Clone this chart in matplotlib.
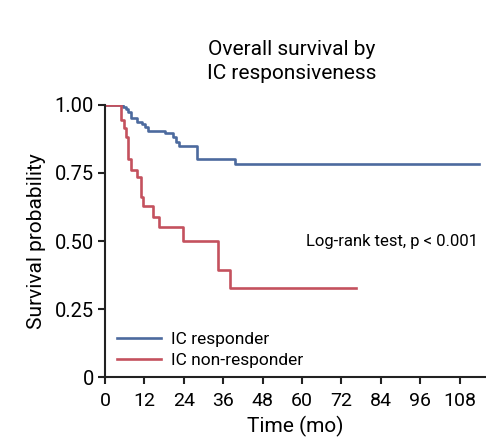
import matplotlib
matplotlib.use("Agg")
import matplotlib.pyplot as plt
import numpy as np

plt.rcParams['font.family'] = ['Roboto', 'DejaVu Sans']

# step curves (time in months, survival probability)
resp_t = [0, 5.6, 6.3, 7.0, 7.8, 9.7, 11.2, 12.2, 13.2, 18.3, 20.8, 21.7, 22.4, 28.0, 39.7, 114]
resp_s = [1.0, 0.994, 0.985, 0.975, 0.951, 0.939, 0.930, 0.918, 0.906, 0.896, 0.884, 0.865, 0.849, 0.800, 0.783, 0.783]

nonresp_t = [0, 4.9, 5.8, 6.4, 7.1, 7.9, 9.7, 10.9, 11.7, 14.5, 16.3, 23.9, 34.3, 38.1, 76.3]
nonresp_s = [1.0, 0.945, 0.914, 0.884, 0.80, 0.76, 0.734, 0.663, 0.629, 0.59, 0.553, 0.50, 0.393, 0.328, 0.328]

xticks = [0, 12, 24, 36, 48, 60, 72, 84, 96, 108]
yticks = [0, 0.25, 0.5, 0.75, 1.0]
ytick_labels = ['0', '0.25', '0.50', '0.75', '1.00']

blue = '#4c6a9e'
red = '#c4515e'

fig = plt.figure(figsize=(4.86, 4.41), dpi=100)
ax = fig.add_axes([0.216, 0.145, 0.784, 0.617])

ax.step(resp_t, resp_s, where='post', color=blue, lw=1.9, label='IC responder')
ax.step(nonresp_t, nonresp_s, where='post', color=red, lw=1.9, label='IC non-responder')

ax.set_xlim(0, 116)
ax.set_ylim(0, 1.0)
ax.set_xticks(xticks)
ax.set_yticks(yticks)
ax.set_yticklabels(ytick_labels)
ax.tick_params(axis='y', labelsize=14.5, width=1.5, length=5, color='#222222', pad=3)
ax.tick_params(axis='x', labelsize=14, width=1.5, length=5, color='#222222', pad=6)

for s in ['top', 'right']:
    ax.spines[s].set_visible(False)
for s in ['left', 'bottom']:
    ax.spines[s].set_linewidth(1.5)
    ax.spines[s].set_color('#222222')

ax.set_xlabel('Time (mo)', fontsize=15, labelpad=4)
ax.set_ylabel('Survival probability', fontsize=15, labelpad=6)
fig.text(0.60, 0.861, 'Overall survival by\nIC responsiveness', fontsize=15,
         ha='center', va='center', linespacing=1.35)

ax.text(0.98, 0.5, 'Log-rank test, p < 0.001', transform=ax.transAxes,
        ha='right', va='center', fontsize=12)

ax.legend(loc='lower left', frameon=False, fontsize=12.5, handlelength=2.5,
          borderaxespad=0.3, labelspacing=0.3, handletextpad=0.6,
          bbox_to_anchor=(0.0, -0.01))

fig.savefig('out.png', dpi=100)
